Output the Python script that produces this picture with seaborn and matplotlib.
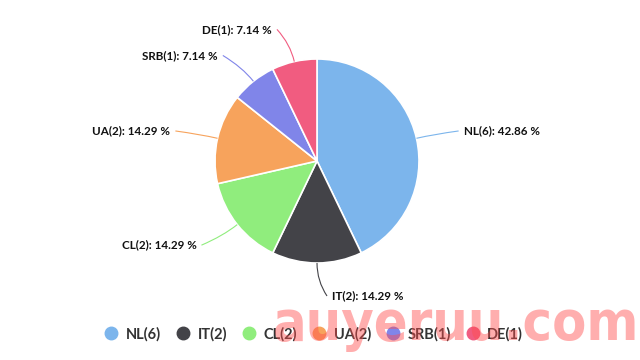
import numpy as np
import matplotlib
matplotlib.use("Agg")
import matplotlib.pyplot as plt
from matplotlib.path import Path
from matplotlib.patches import PathPatch
from matplotlib.lines import Line2D
import seaborn as sns

countries = ["NL", "IT", "CL", "UA", "SRB", "DE"]
counts = [6, 2, 2, 2, 1, 1]
colors = ["#7cb5ec", "#434348", "#90ed7d", "#f7a35c", "#8085e9", "#f15c80"]

sns.set_theme(style="white")
plt.rcParams["font.family"] = ["Lato", "DejaVu Sans"]

fig = plt.figure(figsize=(6.4, 3.6), dpi=100)
ax = fig.add_axes([0, 0, 1, 1])

cx, cy, r = 317, 199, 102
pal = sns.color_palette(colors)
wedges, _ = ax.pie(counts, colors=pal, startangle=90, counterclock=False,
                   center=(cx, cy), radius=r, frame=True,
                   wedgeprops=dict(edgecolor="white", linewidth=1.2))
ax.set_xlim(0, 640)
ax.set_ylim(0, 360)
ax.set_aspect("equal")
ax.axis("off")

total = sum(counts)
labels = [f"{c}({n})" for c, n in zip(countries, counts)]
R = r + 33
for w, lab, n, col in zip(wedges, labels, counts, colors):
    mid = np.deg2rad((w.theta1 + w.theta2) / 2)
    ex, ey = cx + r * np.cos(mid), cy + r * np.sin(mid)
    ax_, ay = cx + R * np.cos(mid), cy + R * np.sin(mid)
    right = np.cos(mid) >= -1e-6
    tx = ax_ + (15 if right else -15)
    cxp, cyp = cx + (r + 18) * np.cos(mid), cy + (r + 18) * np.sin(mid)
    end = (tx - 5 if right else tx + 5, ay)
    path = Path([(ex, ey), (cxp, cyp), end], [Path.MOVETO, Path.CURVE3, Path.CURVE3])
    ax.add_patch(PathPatch(path, fill=False, edgecolor=col, lw=0.8))
    ax.text(tx, ay, f"{lab}: {100 * n / total:.2f} %", ha="left" if right else "right",
            va="center", fontsize=8.4, fontweight="bold", color="#111111")

handles = [Line2D([], [], marker="o", linestyle="", markersize=9, markerfacecolor=c,
                  markeredgecolor=c) for c in colors]
fig.legend(handles, labels, loc="center", bbox_to_anchor=(0.49, 0.072), ncol=6,
           frameon=False, handlelength=1.0, handletextpad=0.5, columnspacing=1.0,
           prop={"weight": "bold", "size": 10.5}, labelcolor="#333333")

fig.text(0.713, 0.056, "auyeruu.com", ha="center", va="baseline", fontsize=40,
         fontweight="bold", fontstretch="condensed", color="#ff4d4d", alpha=0.45,
         zorder=10, family=["DejaVu Sans"])

fig.savefig("out.png", dpi=100)
